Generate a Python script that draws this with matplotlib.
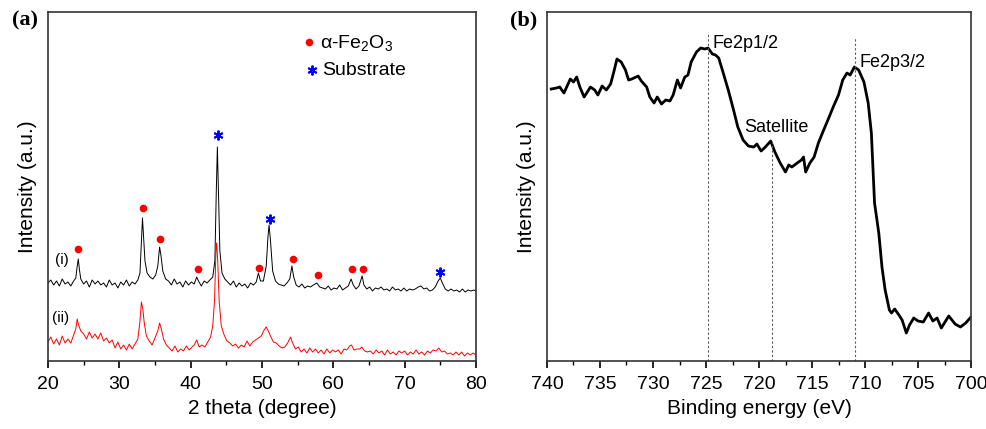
import matplotlib
matplotlib.use("Agg")
import matplotlib.pyplot as plt
from matplotlib.ticker import MultipleLocator

plt.rcParams['font.family'] = ['Liberation Sans', 'DejaVu Sans']
plt.rcParams['mathtext.default'] = 'regular'

# ---- (a) XRD data, intensity in arbitrary units
theta_i = [20.0, 20.4, 20.8, 21.2, 21.6, 22.0, 22.4, 22.8, 23.2, 23.6, 23.9, 24.1, 24.25, 24.4, 24.6,
           25.0, 25.4, 25.8, 26.2, 26.6, 27.0, 27.4, 27.8, 28.2, 28.6, 29.0, 29.4, 29.8, 30.2, 30.6,
           31.0, 31.4, 31.8, 32.2, 32.6, 32.9, 33.1, 33.25, 33.4, 33.6, 33.9, 34.3, 34.7, 35.1, 35.4,
           35.65, 35.85, 36.1, 36.5, 36.9, 37.3, 37.7, 38.1, 38.5, 38.9, 39.3, 39.7, 40.1, 40.5, 40.85,
           41.1, 41.5, 41.9, 42.3, 42.7, 43.1, 43.4, 43.6, 43.75, 43.9, 44.1, 44.4, 44.8, 45.2, 45.6,
           46.0, 46.4, 46.8, 47.2, 47.6, 48.0, 48.4, 48.8, 49.2, 49.5, 49.8, 50.2, 50.6, 50.85, 51.0,
           51.2, 51.5, 51.9, 52.3, 52.7, 53.1, 53.5, 53.9, 54.2, 54.45, 54.8, 55.2, 55.6, 56.0, 56.4,
           56.8, 57.2, 57.7, 58.1, 58.5, 58.9, 59.3, 59.7, 60.1, 60.5, 60.9, 61.3, 61.7, 62.1, 62.5,
           62.8, 63.2, 63.6, 64.05, 64.3, 64.7, 65.1, 65.5, 65.9, 66.3, 66.7, 67.1, 67.5, 67.9, 68.3,
           68.7, 69.1, 69.5, 69.9, 70.3, 70.7, 71.1, 71.5, 71.9, 72.3, 72.7, 73.1, 73.5, 73.9, 74.3,
           74.7, 75.0, 75.3, 75.7, 76.1, 76.5, 76.9, 77.3, 77.7, 78.1, 78.5, 78.9, 79.3, 79.7, 80.0]
int_i = [78, 81, 76, 80, 75, 82, 77, 79, 75, 80, 83, 95, 102, 92, 82,
         77, 80, 74, 81, 77, 80, 76, 78, 74, 81, 76, 78, 73, 79, 76,
         81, 75, 79, 77, 81, 88, 120, 143, 125, 100, 88, 84, 82, 86, 95,
         114, 105, 90, 82, 80, 76, 82, 77, 79, 74, 80, 76, 79, 77, 84,
         80, 75, 80, 78, 81, 84, 100, 170, 214, 170, 110, 88, 82, 79, 76,
         80, 74, 78, 75, 77, 73, 78, 76, 79, 88, 80, 80, 95, 125, 136,
         120, 90, 80, 77, 76, 75, 78, 82, 95, 84, 76, 74, 77, 73, 75,
         74, 76, 78, 74, 73, 72, 75, 71, 73, 72, 76, 71, 73, 75, 82,
         76, 72, 75, 85, 76, 72, 74, 70, 73, 72, 74, 71, 72, 70, 74,
         71, 72, 70, 73, 70, 72, 71, 72, 74, 75, 72, 73, 70, 71, 74,
         80, 83, 78, 72, 70, 72, 70, 71, 69, 72, 69, 71, 70, 71, 70]

theta_ii = [20.0, 20.4, 20.8, 21.2, 21.6, 22.0, 22.4, 22.8, 23.2, 23.6, 23.9, 24.1, 24.3, 24.6, 25.0,
            25.4, 25.8, 26.2, 26.6, 27.0, 27.4, 27.8, 28.2, 28.6, 29.0, 29.4, 29.8, 30.2, 30.6, 31.0,
            31.4, 31.8, 32.2, 32.6, 32.9, 33.1, 33.3, 33.5, 33.8, 34.2, 34.6, 35.0, 35.4, 35.65, 35.9,
            36.2, 36.6, 37.0, 37.4, 37.8, 38.2, 38.6, 39.0, 39.4, 39.8, 40.2, 40.5, 40.85, 41.2, 41.6,
            42.0, 42.4, 42.8, 43.1, 43.35, 43.55, 43.65, 43.8, 44.0, 44.3, 44.7, 45.1, 45.5, 45.9, 46.3,
            46.7, 47.1, 47.5, 47.9, 48.3, 48.7, 49.1, 49.5, 49.9, 50.3, 50.6, 50.9, 51.2, 51.6, 52.0,
            52.4, 52.8, 53.2, 53.6, 54.0, 54.3, 54.7, 55.1, 55.5, 55.9, 56.3, 56.7, 57.1, 57.5, 57.9,
            58.3, 58.7, 59.1, 59.5, 59.9, 60.3, 60.7, 61.1, 61.5, 61.9, 62.3, 62.55, 62.9, 63.3, 63.7,
            64.0, 64.4, 64.8, 65.2, 65.6, 66.0, 66.4, 66.8, 67.2, 67.6, 68.0, 68.4, 68.8, 69.2, 69.6,
            70.0, 70.4, 70.8, 71.2, 71.6, 72.0, 72.4, 72.8, 73.2, 73.6, 74.0, 74.4, 74.8, 75.2, 75.6,
            76.0, 76.4, 76.8, 77.2, 77.6, 78.0, 78.4, 78.8, 79.2, 79.6, 80.0]
int_ii = [19, 24, 17, 22, 16, 25, 18, 22, 18, 26, 32, 42, 36, 30, 27,
          22, 29, 23, 27, 22, 28, 20, 23, 18, 21, 13, 19, 12, 16, 11,
          17, 12, 17, 22, 40, 59, 52, 38, 25, 20, 16, 23, 30, 38, 32,
          22, 16, 13, 10, 15, 9, 12, 10, 15, 11, 14, 16, 21, 14, 16,
          14, 19, 24, 35, 60, 110, 118, 100, 60, 35, 26, 20, 18, 15, 17,
          13, 16, 14, 20, 15, 19, 21, 23, 25, 31, 34, 30, 25, 19, 18,
          15, 13, 14, 18, 24, 18, 12, 14, 9, 12, 8, 13, 9, 12, 8,
          11, 7, 12, 8, 11, 9, 11, 7, 12, 11, 15, 16, 11, 12, 12,
          14, 10, 9, 10, 7, 11, 8, 10, 6, 11, 7, 9, 6, 10, 8,
          10, 6, 9, 7, 11, 7, 9, 6, 10, 8, 11, 10, 13, 9, 10,
          7, 8, 6, 9, 6, 9, 5, 8, 6, 8, 6]

fe2o3_x = [24.2, 33.3, 35.75, 41.0, 49.6, 54.3, 57.8, 62.6, 64.1]
fe2o3_y = [112, 153, 122, 92, 93, 102, 86, 92, 92]
sub_x = [43.8, 51.1, 75.0]
sub_y = [226, 142, 89]

# ---- (b) XPS Fe 2p spectrum
be = [739.6, 739.1, 738.8, 738.4, 737.8, 737.5, 737.2, 736.9, 736.5, 735.9, 735.5, 735.2, 734.8,
      734.4, 734.0, 733.7, 733.4, 733.0, 732.6, 732.3, 732.0, 731.4, 731.1, 730.6, 730.3, 729.9,
      729.6, 729.2, 728.8, 728.4, 728.1, 727.7, 727.4, 727.0, 726.7, 726.4, 725.9, 725.5, 725.1,
      724.8, 724.4, 724.1, 723.8, 723.4, 722.9, 722.4, 722.0, 721.5, 721.0, 720.5, 720.2, 719.8,
      719.4, 718.9, 718.5, 718.0, 717.5, 717.2, 716.9, 716.4, 716.0, 715.8, 715.6, 715.2, 714.8,
      714.4, 713.9, 713.5, 713.0, 712.5, 712.1, 711.7, 711.4, 711.0, 710.6, 710.1, 709.7, 709.4,
      709.1, 708.7, 708.4, 708.1, 707.7, 707.5, 707.2, 706.8, 706.5, 706.1, 705.8, 705.4, 705.0,
      704.5, 704.0, 703.6, 703.2, 702.8, 702.1, 701.5, 701.0, 700.5, 700.0]
xps = [272, 273, 274, 268, 282, 279, 284, 274, 264, 274, 271, 266, 275,
       271, 277, 289, 302, 299, 291, 281, 282, 285, 280, 274, 264, 258,
       264, 257, 261, 260, 266, 281, 273, 284, 286, 299, 309, 313, 312,
       313, 307, 306, 303, 289, 271, 251, 234, 221, 215, 214, 217, 210,
       214, 220, 209, 198, 189, 196, 194, 198, 201, 204, 189, 198, 204,
       218, 231, 241, 254, 266, 281, 288, 286, 294, 291, 279, 258, 228,
       158, 128, 94, 71, 51, 48, 52, 46, 41, 28, 36, 43, 40,
       39, 48, 40, 43, 33, 45, 37, 34, 38, 44]
ref_lines = [724.8, 718.8, 710.9]
ref_tops = [329, 221, 323]

fig = plt.figure(figsize=(9.87, 4.29), dpi=100)
ax1 = fig.add_axes([0.0486, 0.1585, 0.4336, 0.8135])
ax2 = fig.add_axes([0.5542, 0.1585, 0.4296, 0.8135])

# panel (a)
ax1.plot(theta_i, int_i, color='black', lw=0.7)
ax1.plot(theta_ii, int_ii, color='red', lw=0.7)
ax1.plot(fe2o3_x, fe2o3_y, 'o', color='red', ms=5.5, mec='none')
ax1.plot(sub_x, sub_y, ls='none', marker=(6, 2, 0), color='blue', ms=7, mew=1.4)
ax1.plot([56.6], [319], 'o', color='red', ms=5.5, mec='none')
ax1.plot([57.0], [291], ls='none', marker=(6, 2, 0), color='blue', ms=7, mew=1.4)
ax1.text(58.1, 318, 'α-Fe$_2$O$_3$', fontsize=14, va='center')
ax1.text(58.4, 291, 'Substrate', fontsize=14, va='center')
ax1.text(21.0, 101, '(i)', fontsize=11, va='center')
ax1.text(20.6, 43, '(ii)', fontsize=11, va='center')
ax1.set_xlim(20, 80)
ax1.set_ylim(0, 349)
ax1.xaxis.set_major_locator(MultipleLocator(10))
ax1.xaxis.set_minor_locator(MultipleLocator(5))
ax1.set_xlabel('2 theta (degree)', fontsize=15)
ax1.set_ylabel('Intensity (a.u.)', fontsize=15, labelpad=8)
fig.text(0.012, 0.94, '(a)', fontsize=16, fontweight='bold', family='Liberation Serif')

# panel (b)
ax2.plot(be, xps, color='black', lw=2)
ax2.vlines(ref_lines, 0, ref_tops, colors='0.35', linestyles=(0, (2, 2)), lw=0.8)
ax2.text(724.4, 318, 'Fe2p1/2', fontsize=13, va='center')
ax2.text(721.4, 234, 'Satellite', fontsize=13, va='center')
ax2.text(710.5, 299, 'Fe2p3/2', fontsize=13, va='center')
ax2.set_xlim(740, 700)
ax2.set_ylim(0, 349)
ax2.xaxis.set_major_locator(MultipleLocator(5))
ax2.xaxis.set_minor_locator(MultipleLocator(2.5))
ax2.set_xlabel('Binding energy (eV)', fontsize=15)
ax2.set_ylabel('Intensity (a.u.)', fontsize=15, labelpad=8)
fig.text(0.517, 0.94, '(b)', fontsize=16, fontweight='bold', family='Liberation Serif')

for ax in (ax1, ax2):
    ax.set_yticks([])
    for s in ax.spines.values():
        s.set_linewidth(1.2)
        s.set_color('0.2')
    ax.tick_params(axis='x', which='major', direction='out', length=5, width=1.2, labelsize=14, pad=6)
    ax.tick_params(axis='x', which='minor', direction='out', length=3, width=1.0)

fig.savefig('out.png', dpi=100)
